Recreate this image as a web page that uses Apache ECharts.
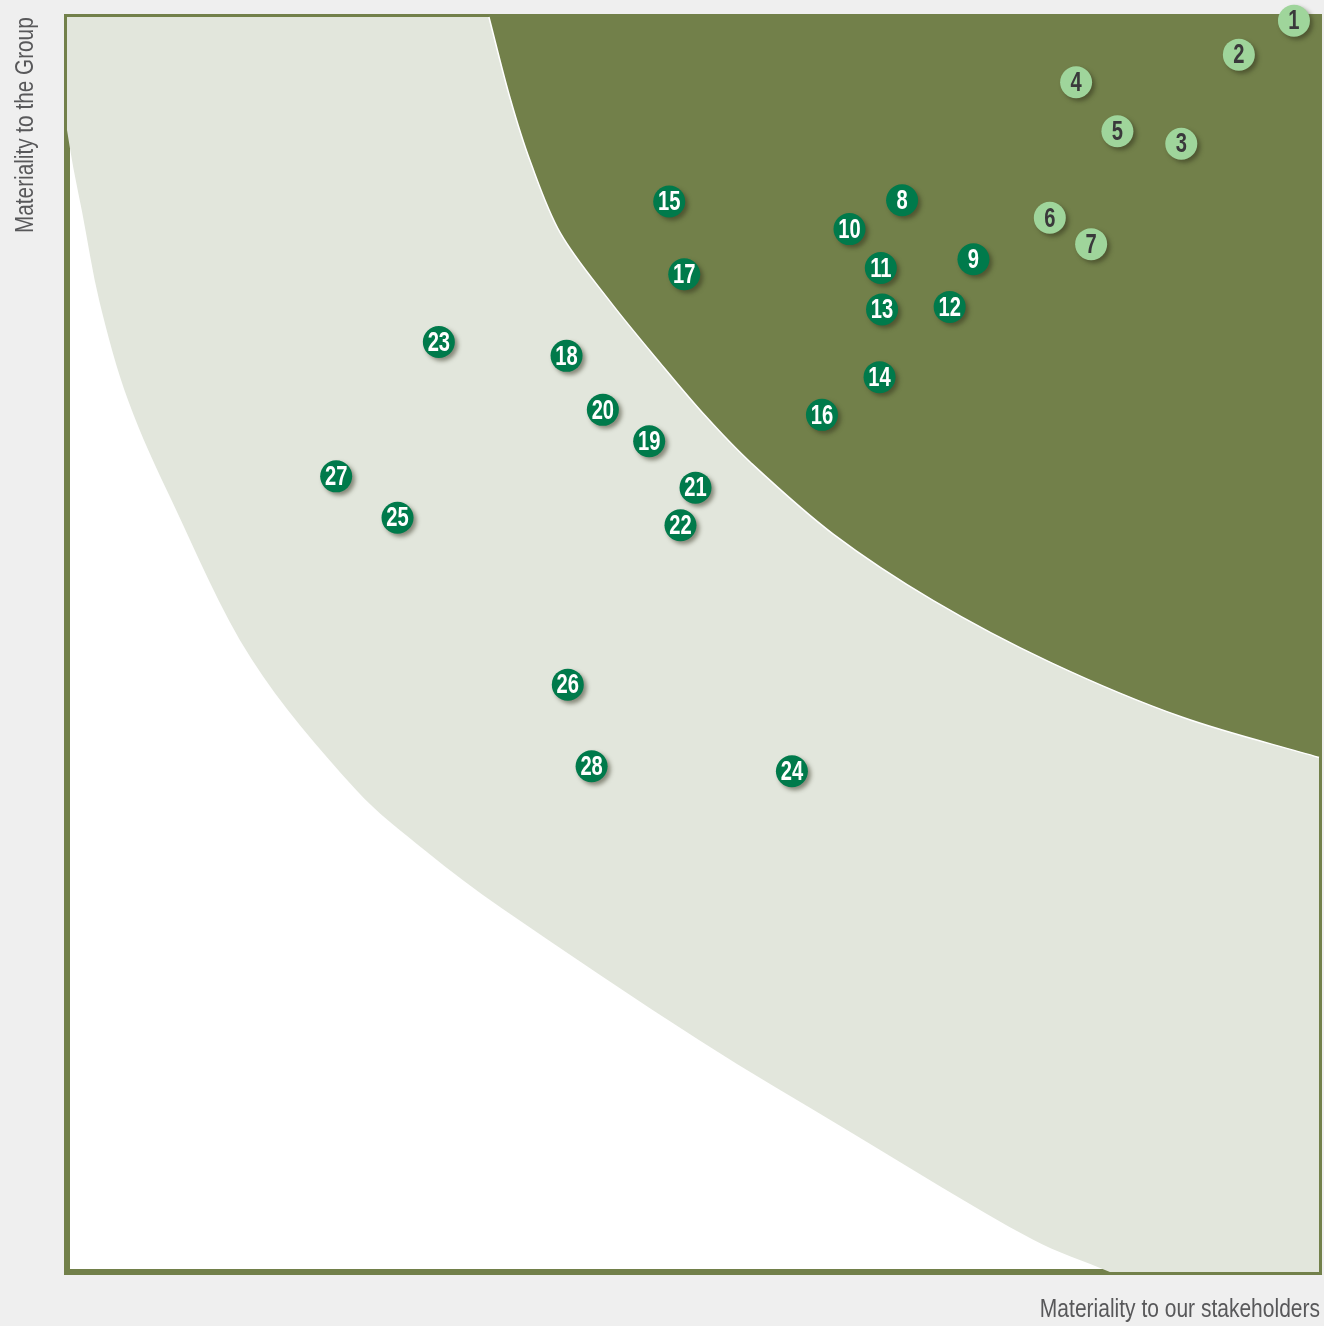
<!DOCTYPE html>
<html>
<head>
<meta charset="utf-8">
<script src="https://cdn.jsdelivr.net/npm/echarts@6/dist/echarts.min.js"></script>
<style>
  html, body { margin: 0; padding: 0; background: #efefef; }
  #chart { width: 1324px; height: 1326px; }
</style>
</head>
<body>
<div id="chart"></div>
<script>
  // topic numbers and their scores (x: stakeholders, y: group), 0-100
  var topicIds = [1, 2, 3, 4, 5, 6, 7, 8, 9, 10, 11, 12, 13, 14, 15, 16, 17, 18, 19, 20, 21, 22, 23, 24, 25, 26, 27, 28]
  var stakeholderScore = [98.0, 93.6, 89.0, 80.6, 83.9, 78.5, 81.8, 66.7, 72.4, 62.5, 65.0, 70.5, 65.1, 64.9,
    48.1, 60.3, 49.3, 39.9, 46.5, 42.8, 50.2, 49.0, 29.7, 57.9, 26.4, 40.0, 21.5, 41.9]
  var groupScore = [99.7, 97.0, 89.9, 94.8, 90.9, 84.0, 81.9, 85.4, 80.7, 83.1, 80.0, 76.9, 76.7, 71.3,
    85.3, 68.3, 79.5, 73.0, 66.2, 68.7, 62.5, 59.5, 74.1, 39.9, 60.1, 46.8, 63.4, 40.3]
  // 'high' = light bubbles, 'mid' = dark bubbles
  var tier = ['high', 'high', 'high', 'high', 'high', 'high', 'high',
    'mid', 'mid', 'mid', 'mid', 'mid', 'mid', 'mid', 'mid', 'mid', 'mid', 'mid', 'mid', 'mid', 'mid',
    'mid', 'mid', 'mid', 'mid', 'mid', 'mid', 'mid']

  // boundary of the dark (most material) zone
  var innerEdgeX = [33.7, 35.4, 37.0, 39.4, 43.4, 47.4, 51.0, 54.6, 61.2, 69.2, 78.5, 89.1, 100]
  var innerEdgeY = [100, 93.5, 88.5, 82.8, 77.3, 72.4, 68.2, 64.5, 58.8, 53.5, 48.6, 44.2, 41.0]
  // outer boundary of the light band (it leaves the frame at the bottom)
  var outerEdgeX = [0, 0.5, 1.2, 2.6, 4.9, 8.4, 14.7, 23.1, 28.7, 34.7, 50.6, 62.5, 77.1, 83.3]
  var outerEdgeY = [91.0, 88.0, 84.5, 77.3, 69.4, 61.4, 48.9, 38.4, 33.5, 29.0, 18.4, 11.2, 2.6, 0]

  var sans = '"Liberation Sans", Arial, sans-serif'

  function dist(a, b) {
    return Math.sqrt((a[0] - b[0]) * (a[0] - b[0]) + (a[1] - b[1]) * (a[1] - b[1])) || 1
  }

  // smooth curve through pixel points, tangents scaled by segment length
  function curveThrough(pts) {
    var d = ''
    for (var i = 0; i < pts.length - 1; i++) {
      var p0 = pts[Math.max(i - 1, 0)]
      var p1 = pts[i]
      var p2 = pts[i + 1]
      var p3 = pts[Math.min(i + 2, pts.length - 1)]
      var d01 = dist(p0, p1), d12 = dist(p1, p2), d23 = dist(p2, p3)
      if (p0 === p1) d01 = 0
      if (p3 === p2) d23 = 0
      var k1 = d12 / (d01 + d12) / 1.5
      var k2 = d12 / (d12 + d23) / 1.5
      var c1 = [p1[0] + (p2[0] - p0[0]) * k1 / 2, p1[1] + (p2[1] - p0[1]) * k1 / 2]
      var c2 = [p2[0] - (p3[0] - p1[0]) * k2 / 2, p2[1] - (p3[1] - p1[1]) * k2 / 2]
      d += ' C' + c1[0] + ' ' + c1[1] + ' ' + c2[0] + ' ' + c2[1] + ' ' + p2[0] + ' ' + p2[1]
    }
    return d
  }

  function zoneRenderer(xs, ys, corners, fill, edgeColor) {
    return function (params, api) {
      var pts = xs.map(function (x, i) { return api.coord([x, ys[i]]) })
      var edge = 'M' + pts[0][0] + ' ' + pts[0][1] + curveThrough(pts)
      var area = edge
      corners.forEach(function (c) {
        var p = api.coord(c)
        area += ' L' + p[0] + ' ' + p[1]
      })
      area += ' Z'
      var children = [{ type: 'path', shape: { pathData: area }, style: { fill: fill } }]
      if (edgeColor) {
        children.push({ type: 'path', shape: { pathData: edge }, style: { fill: null, stroke: edgeColor, lineWidth: 1.5 } })
      }
      return { type: 'group', silent: true, children: children }
    }
  }

  var bubbles = topicIds.map(function (id, i) {
    return [stakeholderScore[i], groupScore[i], id]
  })

  var chart = echarts.init(document.getElementById('chart'))
  var option = {
    backgroundColor: '#efefef',
    animation: false,
    grid: {
      left: 67,
      top: 17,
      width: 1252,
      height: 1255,
      show: true,
      backgroundColor: '#ffffff',
      borderColor: '#72804a',
      borderWidth: 6
    },
    xAxis: {
      type: 'value', min: 0, max: 100,
      axisLine: { show: false }, axisTick: { show: false },
      axisLabel: { show: false }, splitLine: { show: false }
    },
    yAxis: {
      type: 'value', min: 0, max: 100,
      axisLine: { show: false }, axisTick: { show: false },
      axisLabel: { show: false }, splitLine: { show: false }
    },
    graphic: [
      {
        type: 'text',
        x: 26, y: 233,
        rotation: Math.PI / 2,
        scaleX: 0.83,
        style: {
          text: 'Materiality to the Group',
          font: '25px ' + sans,
          fill: '#58585a',
          align: 'left',
          verticalAlign: 'middle'
        }
      },
      {
        type: 'text',
        x: 1320, y: 1310,
        scaleX: 0.84,
        style: {
          text: 'Materiality to our stakeholders',
          font: '25px ' + sans,
          fill: '#58585a',
          align: 'right',
          verticalAlign: 'middle'
        }
      }
    ],
    series: [
      {
        // light band: everything above/right of the outer edge
        type: 'custom',
        data: [0],
        z: 1,
        renderItem: zoneRenderer(outerEdgeX, outerEdgeY, [[100, 0], [100, 100], [0, 100]], '#e2e6dc', null)
      },
      {
        // dark zone in the top-right corner
        type: 'custom',
        data: [0],
        z: 2,
        renderItem: zoneRenderer(innerEdgeX, innerEdgeY, [[100, 100]], '#72804a', '#ffffff')
      },
      {
        type: 'custom',
        data: bubbles,
        encode: { x: 0, y: 1 },
        z: 5,
        renderItem: function (params, api) {
          var c = api.coord([api.value(0), api.value(1)])
          var light = tier[params.dataIndex] === 'high'
          return {
            type: 'group',
            children: [
              {
                type: 'circle',
                shape: { cx: c[0], cy: c[1], r: 16 },
                style: {
                  fill: light ? '#9fd59b' : '#007a4b',
                  shadowBlur: 4,
                  shadowOffsetX: 3,
                  shadowOffsetY: 3,
                  shadowColor: 'rgba(45,45,25,0.5)'
                }
              },
              {
                type: 'text',
                x: c[0],
                y: c[1] + 1,
                scaleX: 0.72,
                style: {
                  text: String(api.value(2)),
                  font: 'bold 28px ' + sans,
                  fill: light ? '#3a393b' : '#ffffff',
                  align: 'center',
                  verticalAlign: 'middle'
                }
              }
            ]
          }
        }
      }
    ]
  }
  chart.setOption(option)
</script>
</body>
</html>
